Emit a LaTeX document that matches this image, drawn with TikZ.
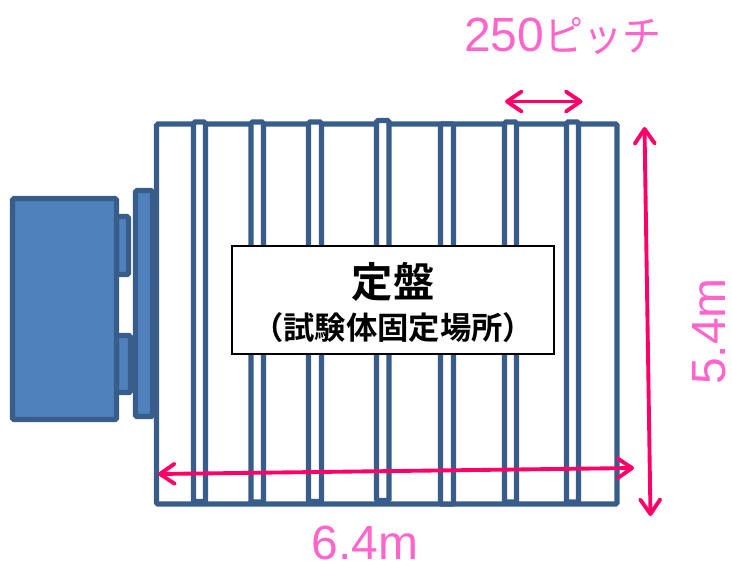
\documentclass[tikz,border=0pt]{standalone}
\usepackage{fontspec}
\setmainfont{Liberation Sans}
\newfontfamily\cjk{Noto Sans CJK JP}
\newfontfamily\cjkb{Noto Sans CJK JP Bold}
\usetikzlibrary{arrows.meta}
\definecolor{edge}{HTML}{385D8A}
\definecolor{fillb}{HTML}{4F81BD}
\definecolor{arrowc}{HTML}{FF0066}
\definecolor{dimc}{HTML}{FF66CC}
\tikzset{
  part/.style={draw=edge,line width=3.8pt,rounded corners=1pt},
  solid part/.style={part,fill=fillb},
  rib/.style={part,fill=white},
  dimarrow/.style={draw=arrowc,line width=2.9pt,line cap=round,
    {Straight Barb[length=11pt,width=15pt,line cap=round,round]}-{Straight Barb[length=11pt,width=15pt,line cap=round,round]}},
  dimlabel/.style={text=dimc,font=\fontsize{36}{36}\selectfont,inner sep=0pt}
}
\begin{document}
\begin{tikzpicture}[x=0.75pt,y=-0.75pt]
\useasboundingbox (0,0) rectangle (732,561);
% frame
\draw[part,fill=white] (156.5,124) rectangle (617,504);
% ribs
\foreach \a/\b/\t/\e in {193.5/205.5/122/501.5,251/263.5/122/502,308.5/321.5/122/501.5,376.5/389/120.5/500.5,440.5/453.5/124/504,504.5/516.5/122/502,566.5/578.5/122/502}{
  \draw[rib] (\a,\t) rectangle (\b,\e);
}
% motor
\draw[solid part] (116.5,216.5) rectangle (128.5,274.5);
\draw[solid part] (116.5,335.5) rectangle (130.5,392.5);
\draw[solid part] (135.5,190.5) rectangle (152.5,416.5);
\draw[solid part] (12.5,198.5) rectangle (116.5,419.5);
% label box
\node[draw=black,line width=1.5pt,fill=white,minimum width=241pt,minimum height=81pt,inner sep=0pt] (box) at (393,299.5) {};
\node[inner sep=0pt] (t1) at (393,281.5) {\cjkb\fontsize{31}{31}\selectfont 定盤};
\node[inner sep=0pt] (t2) at (393,328) {\cjkb\fontsize{23.5}{23.5}\selectfont （試験体固定場所）};
% dimensions
\coordinate (pa) at (505,101.5);
\coordinate (pb) at (582.5,101.5);
\coordinate (va) at (644.5,127);
\coordinate (vb) at (650.5,516);
\coordinate (ha) at (158,474);
\coordinate (hb) at (634,468);
\draw[dimarrow] (pa) -- (pb);
\draw[dimarrow] (va) -- (vb);
\draw[dimarrow] (ha) -- (hb);
\node[dimlabel,anchor=base west] (pitch) at (464,51.5) {250\scalebox{.93}[1]{\cjk\fontsize{31.5}{31.5}\selectfont ピッチ}};
\node[dimlabel,rotate=90] (height) at (709,331.5) {5.4m};
\node[dimlabel] (width) at (365,543) {6.4m};
\end{tikzpicture}
\end{document}
